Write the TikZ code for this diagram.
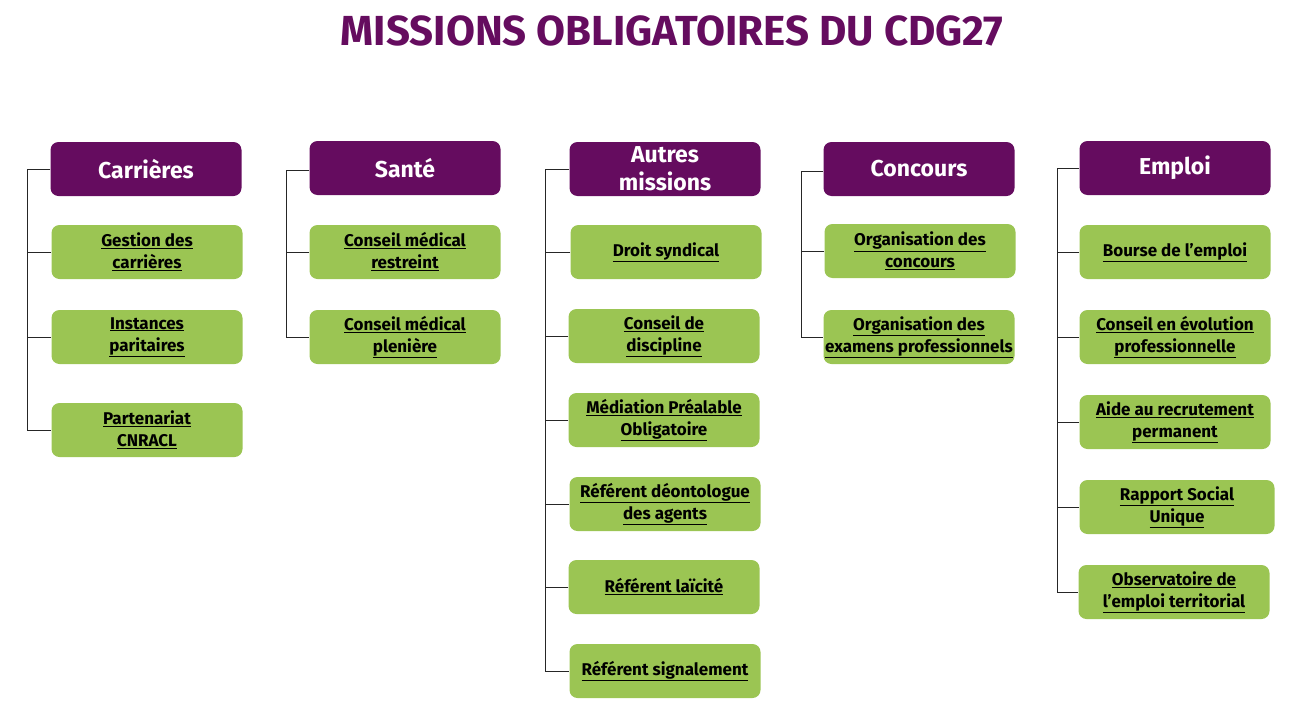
\documentclass[tikz,border=0pt]{standalone}
\usepackage{fontspec}
\setmainfont{Fira Sans}
\usetikzlibrary{positioning}
\definecolor{mpurple}{HTML}{650C5F}
\definecolor{mgreen}{HTML}{9BC553}
\newcommand{\lk}[1]{\underline{#1}}

\tikzset{
  head/.style={fill=mpurple, text=white, rounded corners=8pt,
    minimum width=191pt, minimum height=54pt, inner sep=0pt, align=center,
    font=\fontsize{23}{28}\selectfont\bfseries},
  item/.style={fill=mgreen, text=black, rounded corners=8pt,
    minimum width=191pt, minimum height=54pt, inner sep=0pt, align=center,
    font=\fontsize{17}{22}\selectfont\bfseries},
  tree/.style={draw=black!85, line width=1pt}
}

\begin{document}
\begin{tikzpicture}[x=1pt, y=-1pt]
      \useasboundingbox (0, 0) rectangle (1294, 715);
      \node [text=mpurple, font=\fontsize{42}{46}\selectfont\bfseries] (title) at (672, 31) {MISSIONS OBLIGATOIRES DU CDG27};

      % Carrieres
      \node [head] (car) at (146, 169) {Carrières};
      \node [item] (car1) at (147, 252) {\lk{Gestion des}\\\lk{carrières}};
      \node [item] (car2) at (147, 337) {\lk{Instances}\\\lk{paritaires}};
      \node [item] (car3) at (147, 430) {\lk{Partenariat}\\\lk{CNRACL}};
      \coordinate (tcar) at (27, 169);
      \draw [tree] (car.west) -- (tcar) |- (car3.west);
      \draw [tree] (car1.west) -- (car1.west -| tcar);
      \draw [tree] (car2.west) -- (car2.west -| tcar);

      % Sante
      \node [head] (san) at (405, 168) {Santé};
      \node [item] (san1) at (405, 252) {\lk{Conseil médical}\\\lk{restreint}};
      \node [item] (san2) at (405, 337) {\lk{Conseil médical}\\\lk{plenière}};
      \coordinate (tsan) at (286, 170);
      \draw [tree] (tsan -| san.west) -- (tsan) |- (san2.west);
      \draw [tree] (san1.west) -- (san1.west -| tsan);

      % Autres missions
      \node [head] (aut) at (665, 169) {Autres\\missions};
      \node [item] (aut1) at (666, 252) {\lk{Droit syndical}};
      \node [item] (aut2) at (664, 336) {\lk{Conseil de}\\\lk{discipline}};
      \node [item] (aut3) at (664, 420) {\lk{Médiation Préalable}\\\lk{Obligatoire}};
      \node [item] (aut4) at (665, 504) {\lk{Référent déontologue}\\\lk{des agents}};
      \node [item] (aut5) at (664, 587) {\lk{Référent laïcité}};
      \node [item] (aut6) at (665, 671) {\lk{Référent signalement}};
      \coordinate (taut) at (545, 169);
      \draw [tree] (aut.west) -- (taut) |- (aut6.west);
      \draw [tree] (aut1.west) -- (aut1.west -| taut);
      \draw [tree] (aut2.west) -- (aut2.west -| taut);
      \draw [tree] (aut3.west) -- (aut3.west -| taut);
      \draw [tree] (aut4.west) -- (aut4.west -| taut);
      \draw [tree] (aut5.west) -- (aut5.west -| taut);

      % Concours
      \node [head] (con) at (919, 169) {Concours};
      \node [item] (con1) at (920, 251) {\lk{Organisation des}\\\lk{concours}};
      \node [item] (con2) at (919, 337) {\lk{Organisation des}\\\lk{examens professionnels}};
      \coordinate (tcon) at (801, 171);
      \draw [tree] (tcon -| con.west) -- (tcon) |- (con2.west);
      \draw [tree] (con1.west) -- (con1.west -| tcon);

      % Emploi
      \node [head] (emp) at (1175, 168) {Emploi};
      \node [item] (emp1) at (1175, 252) {\lk{Bourse de l’emploi}};
      \node [item] (emp2) at (1175, 337) {\lk{Conseil en évolution}\\\lk{professionnelle}};
      \node [item] (emp3) at (1175, 422) {\lk{Aide au recrutement}\\\lk{permanent}};
      \node [item, minimum width=195pt] (emp4) at (1177, 507) {\lk{Rapport Social}\\\lk{Unique}};
      \node [item] (emp5) at (1174, 592) {\lk{Observatoire de}\\\lk{l’emploi territorial}};
      \coordinate (temp) at (1057, 168);
      \draw [tree] (emp.west) -- (temp) |- (emp5.west);
      \draw [tree] (emp1.west) -- (emp1.west -| temp);
      \draw [tree] (emp2.west) -- (emp2.west -| temp);
      \draw [tree] (emp3.west) -- (emp3.west -| temp);
      \draw [tree] (emp4.west) -- (emp4.west -| temp);
\end{tikzpicture}
\end{document}
